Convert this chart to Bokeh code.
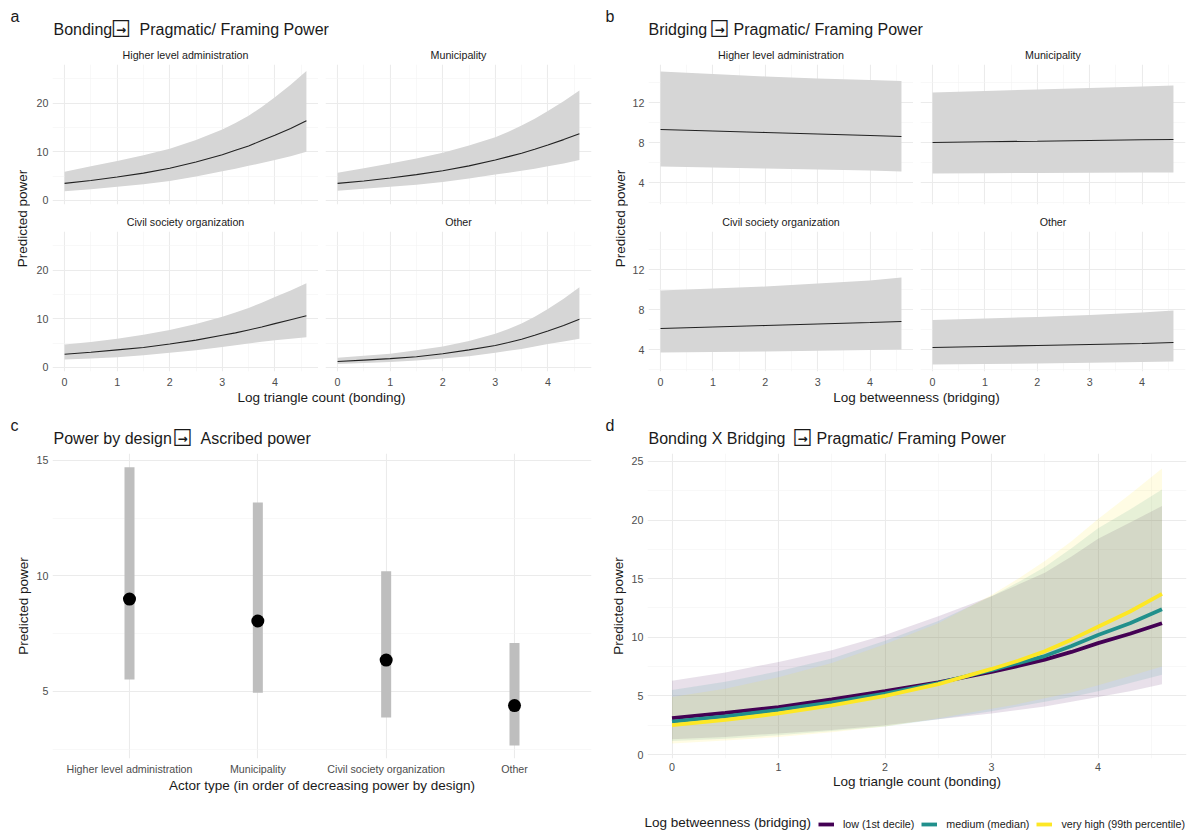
import math

from bokeh.core.properties import value
from bokeh.embed import file_html
from bokeh.layouts import column, row
from bokeh.models import FixedTicker, Legend, LegendItem, Range1d
from bokeh.plotting import figure
from bokeh.resources import INLINE

FONT = "Liberation Sans"
SYMBOL_FONT = "DejaVu Sans"
BOX = "\u2610"
ARROW = "\u2192"
INK = "#1A1A1A"
TICK_INK = "#4D4D4D"
GRID = "#EBEBEB"
GRID_MINOR = "#F3F3F3"
RIBBON = "#D6D6D6"
AXIS_TITLE_SIZE = "13.5px"
TICK_SIZE = "10.7px"

# ---------------------------------------------------------------- data
actor_types = ["Higher level administration", "Municipality",
               "Civil society organization", "Other"]

# a) bonding (log triangle count) -> pragmatic/framing power
bond_x = [0.0, 0.5, 1.0, 1.5, 2.0, 2.5, 3.0, 3.25, 3.5, 3.75, 4.0, 4.3, 4.6]
bond_hla_fit = [3.5, 4.1, 4.8, 5.6, 6.6, 7.9, 9.4, 10.3, 11.2, 12.3, 13.4, 14.8, 16.4]
bond_hla_lo = [1.9, 2.3, 2.8, 3.3, 4.0, 4.9, 6.0, 6.5, 7.1, 7.7, 8.3, 9.1, 10.0]
bond_hla_hi = [5.9, 7.0, 8.1, 9.3, 10.6, 12.4, 14.6, 15.9, 17.4, 19.2, 21.2, 23.8, 26.6]
bond_mun_fit = [3.5, 4.0, 4.6, 5.3, 6.1, 7.1, 8.3, 9.0, 9.7, 10.5, 11.4, 12.5, 13.7]
bond_mun_lo = [2.0, 2.4, 2.8, 3.2, 3.8, 4.5, 5.3, 5.7, 6.1, 6.5, 7.0, 7.6, 8.3]
bond_mun_hi = [5.7, 6.6, 7.6, 8.6, 9.8, 11.3, 13.0, 14.1, 15.4, 16.8, 18.4, 20.4, 22.6]
bond_cso_fit = [2.7, 3.1, 3.6, 4.1, 4.8, 5.6, 6.6, 7.1, 7.7, 8.3, 9.0, 9.8, 10.6]
bond_cso_lo = [1.6, 1.8, 2.1, 2.5, 3.0, 3.5, 4.2, 4.55, 4.9, 5.25, 5.6, 5.9, 6.2]
bond_cso_hi = [4.7, 5.2, 5.9, 6.7, 7.7, 8.9, 10.4, 11.3, 12.2, 13.3, 14.5, 15.8, 17.3]
bond_oth_fit = [1.2, 1.5, 1.8, 2.2, 2.8, 3.6, 4.5, 5.1, 5.8, 6.6, 7.5, 8.6, 9.9]
bond_oth_lo = [0.7, 0.9, 1.1, 1.4, 1.8, 2.3, 3.0, 3.4, 3.8, 4.3, 4.8, 5.3, 5.9]
bond_oth_hi = [2.0, 2.4, 2.8, 3.5, 4.3, 5.4, 6.9, 7.9, 9.0, 10.4, 12.0, 14.1, 16.5]

# b) bridging (log betweenness) -> pragmatic/framing power
bridge_x = [0.0, 1.0, 2.0, 3.0, 4.0, 4.6]
bridge_hla_fit = [9.3, 9.15, 9.0, 8.85, 8.7, 8.6]
bridge_hla_lo = [5.6, 5.5, 5.4, 5.3, 5.2, 5.1]
bridge_hla_hi = [15.1, 14.85, 14.6, 14.4, 14.25, 14.15]
bridge_mun_fit = [8.0, 8.07, 8.13, 8.2, 8.27, 8.3]
bridge_mun_lo = [4.9, 4.92, 4.95, 4.97, 5.0, 5.0]
bridge_mun_hi = [13.0, 13.15, 13.3, 13.45, 13.6, 13.7]
bridge_cso_fit = [6.1, 6.25, 6.4, 6.55, 6.7, 6.8]
bridge_cso_lo = [3.7, 3.75, 3.8, 3.87, 3.95, 4.0]
bridge_cso_hi = [9.9, 10.1, 10.3, 10.6, 10.9, 11.2]
bridge_oth_fit = [4.2, 4.3, 4.4, 4.5, 4.6, 4.7]
bridge_oth_lo = [2.5, 2.55, 2.6, 2.67, 2.75, 2.8]
bridge_oth_hi = [6.95, 7.1, 7.25, 7.45, 7.7, 7.9]

# c) power by design -> ascribed power
design_fit = [9.0, 8.05, 6.36, 4.39]
design_lo = [5.52, 4.95, 3.87, 2.66]
design_hi = [14.7, 13.18, 10.2, 7.1]

# d) bonding x bridging interaction
inter_x = [0.0, 0.5, 1.0, 1.5, 2.0, 2.5, 3.0, 3.25, 3.5, 3.75, 4.0, 4.3, 4.6]
inter_low_fit = [3.1, 3.55, 4.05, 4.7, 5.4, 6.15, 7.05, 7.55, 8.1, 8.75, 9.5, 10.3, 11.2]
inter_low_lo = [1.3, 1.5, 1.8, 2.1, 2.5, 3.0, 3.5, 3.8, 4.1, 4.5, 4.9, 5.4, 6.0]
inter_low_hi = [6.3, 7.0, 7.9, 8.9, 10.2, 11.8, 13.5, 14.5, 15.5, 16.9, 18.4, 19.8, 21.2]
inter_med_fit = [2.8, 3.25, 3.8, 4.45, 5.2, 6.1, 7.2, 7.8, 8.4, 9.25, 10.2, 11.2, 12.4]
inter_med_lo = [1.15, 1.35, 1.65, 2.0, 2.4, 3.0, 3.7, 4.1, 4.5, 4.9, 5.4, 6.1, 6.8]
inter_med_hi = [5.5, 6.2, 7.1, 8.2, 9.7, 11.4, 13.5, 14.7, 16.0, 17.6, 19.3, 20.9, 22.6]
inter_high_fit = [2.5, 2.95, 3.5, 4.2, 5.0, 6.0, 7.3, 8.0, 8.8, 9.8, 10.9, 12.2, 13.7]
inter_high_lo = [0.95, 1.2, 1.5, 1.9, 2.4, 3.1, 3.9, 4.3, 4.8, 5.3, 5.9, 6.7, 7.5]
inter_high_hi = [4.9, 5.6, 6.6, 7.8, 9.4, 11.2, 13.6, 15.0, 16.5, 18.2, 20.1, 22.2, 24.4]

bridging_levels = ["low (1st decile)", "medium (median)", "very high (99th percentile)"]
level_colors = ["#440154", "#21908C", "#FDE725"]

x_ticks = [0, 1, 2, 3, 4]
x_minor = [0.5, 1.5, 2.5, 3.5, 4.5]


# ---------------------------------------------------------------- helpers
def base_style(p, x_standoff=4):
    p.outline_line_color = None
    p.background_fill_color = "white"
    p.border_fill_color = "white"
    p.grid.grid_line_color = GRID
    p.grid.grid_line_width = 1.1
    p.grid.minor_grid_line_color = GRID_MINOR
    p.grid.minor_grid_line_width = 0.6
    for ax in p.axis:
        ax.axis_line_color = None
        ax.major_tick_line_color = None
        ax.minor_tick_line_color = None
        ax.major_tick_out = 0
        ax.major_tick_in = 0
        ax.minor_tick_out = 0
        ax.minor_tick_in = 0
        ax.major_label_text_font = FONT
        ax.major_label_text_font_size = TICK_SIZE
        ax.major_label_text_color = TICK_INK
        ax.major_label_standoff = 4
        ax.axis_label_text_font = FONT
        ax.axis_label_text_font_size = AXIS_TITLE_SIZE
        ax.axis_label_text_font_style = "normal"
        ax.axis_label_text_color = INK
        ax.axis_label_standoff = 3
    for ax in p.xaxis:
        ax.major_label_standoff = x_standoff
        ax.axis_label_standoff = 0


def set_ticks(p, xt, yt):
    p.xgrid.ticker = xt
    p.ygrid.ticker = yt
    for ax in p.xaxis:
        ax.ticker = xt
    for ax in p.yaxis:
        ax.ticker = yt


def blank_figure(width, height):
    p = figure(width=width, height=height, x_range=Range1d(0, width),
               y_range=Range1d(0, height), x_axis_location=None,
               y_axis_location=None, min_border=0,
               output_backend="svg", toolbar_location=None)
    p.grid.visible = False
    p.outline_line_color = None
    p.background_fill_color = "white"
    p.border_fill_color = "white"
    return p


def put_text(p, x, y_from_top, txt, size, angle=0, align="left", font=FONT, style="normal"):
    p.text(x=[x], y=[p.height - y_from_top], text=[txt], angle=angle,
           text_align=align, text_baseline="middle",
           text_font=value(font), text_font_size=value(size),
           text_font_style=style, text_color=INK)


def heading(width, height, tag, y, left_text, arrow_x, right_text, right_x):
    p = blank_figure(width, height)
    put_text(p, 10, y - 13, tag, "16px")
    put_text(p, 53, y, left_text, "16px")
    put_text(p, arrow_x, y - 1, BOX, "23px", align="center", font=SYMBOL_FONT)
    put_text(p, arrow_x, y, ARROW, "12px", align="center", font=SYMBOL_FONT, style="bold")
    put_text(p, right_x, y, right_text, "16px")
    return p


FRAME_H = 140


def facet(name, xs, fit, lo, hi, y_span, yt_major, yt_minor, frame_w,
          left, right, top, bottom, show_x, show_y):
    p = figure(width=left + frame_w + right, height=top + FRAME_H + bottom,
               x_range=Range1d(-0.23, 4.83), y_range=Range1d(*y_span),
               x_axis_location="below" if show_x else None,
               y_axis_location="left" if show_y else None,
               min_border_left=left, min_border_right=right,
               min_border_top=top, min_border_bottom=bottom,
               title=name, output_backend="svg", toolbar_location=None)
    p.title.align = "center"
    p.title.text_font = FONT
    p.title.text_font_size = TICK_SIZE
    p.title.text_font_style = "normal"
    p.title.text_color = INK
    p.title.standoff = 8
    p.varea(x=xs, y1=lo, y2=hi, fill_color=RIBBON, fill_alpha=1.0)
    p.line(x=xs, y=fit, line_color="#222222", line_width=1.1)
    base_style(p, x_standoff=6)
    set_ticks(p, FixedTicker(ticks=x_ticks, minor_ticks=x_minor),
              FixedTicker(ticks=yt_major, minor_ticks=yt_minor))
    return p


HEAD_H = 41
TOP_B, MID_B_UP, MID_B_LOW, LOW_B = 23, 4, 23, 19
COL_H = (TOP_B + FRAME_H + MID_B_UP) + (MID_B_LOW + FRAME_H + LOW_B)
YT_CENTER = 218 - HEAD_H

# ---------------------------------------------------------------- panel a
a_span = (-0.85, 27.95)
a_major, a_minor = [0, 10, 20], [5, 15, 25]
fa1 = facet(actor_types[0], bond_x, bond_hla_fit, bond_hla_lo, bond_hla_hi,
            a_span, a_major, a_minor, 266, 22, 0, TOP_B, MID_B_UP, False, True)
fa2 = facet(actor_types[1], bond_x, bond_mun_fit, bond_mun_lo, bond_mun_hi,
            a_span, a_major, a_minor, 266, 7, 4, TOP_B, MID_B_UP, False, False)
fa3 = facet(actor_types[2], bond_x, bond_cso_fit, bond_cso_lo, bond_cso_hi,
            a_span, a_major, a_minor, 266, 22, 0, MID_B_LOW, LOW_B, True, True)
fa4 = facet(actor_types[3], bond_x, bond_oth_fit, bond_oth_lo, bond_oth_hi,
            a_span, a_major, a_minor, 266, 7, 4, MID_B_LOW, LOW_B, True, False)

head_a = heading(595, HEAD_H, "a", 29, "Bonding", 120.5,
                 "Pragmatic/ Framing Power", 139)
ytitle_a = blank_figure(30, COL_H)
put_text(ytitle_a, 22, YT_CENTER, "Predicted power", AXIS_TITLE_SIZE, angle=math.pi / 2, align="center")
xtitle_a = blank_figure(595, 406 - HEAD_H - COL_H)
put_text(xtitle_a, 321, 7, "Log triangle count (bonding)", AXIS_TITLE_SIZE, align="center")
panel_a = column(head_a,
                 row(ytitle_a, column(row(fa1, fa2), row(fa3, fa4))),
                 xtitle_a)

# ---------------------------------------------------------------- panel b
b_span = (1.8, 15.8)
b_major, b_minor = [4, 8, 12], [2, 6, 10, 14]
fb1 = facet(actor_types[0], bridge_x, bridge_hla_fit, bridge_hla_lo, bridge_hla_hi,
            b_span, b_major, b_minor, 265, 20, 0, TOP_B, MID_B_UP, False, True)
fb2 = facet(actor_types[1], bridge_x, bridge_mun_fit, bridge_mun_lo, bridge_mun_hi,
            b_span, b_major, b_minor, 265, 7, 10, TOP_B, MID_B_UP, False, False)
fb3 = facet(actor_types[2], bridge_x, bridge_cso_fit, bridge_cso_lo, bridge_cso_hi,
            b_span, b_major, b_minor, 265, 20, 0, MID_B_LOW, LOW_B, True, True)
fb4 = facet(actor_types[3], bridge_x, bridge_oth_fit, bridge_oth_lo, bridge_oth_hi,
            b_span, b_major, b_minor, 265, 7, 10, MID_B_LOW, LOW_B, True, False)

head_b = heading(600, HEAD_H, "b", 29, "Bridging", 124,
                 "Pragmatic/ Framing Power", 138)
ytitle_b = blank_figure(33, COL_H)
put_text(ytitle_b, 25, YT_CENTER, "Predicted power", AXIS_TITLE_SIZE, angle=math.pi / 2, align="center")
xtitle_b = blank_figure(600, 406 - HEAD_H - COL_H)
put_text(xtitle_b, 321, 7, "Log betweenness (bridging)", AXIS_TITLE_SIZE, align="center")
panel_b = column(head_b,
                 row(ytitle_b, column(row(fb1, fb2), row(fb3, fb4))),
                 xtitle_b)

# ---------------------------------------------------------------- panel c
positions = list(range(1, len(actor_types) + 1))
pc = figure(width=595, height=379, x_range=Range1d(0.4, 4.6),
            y_range=Range1d(2.10, 15.30), min_border_left=52,
            min_border_right=4, min_border_top=0, min_border_bottom=74,
            output_backend="svg", toolbar_location=None)
pc.vbar(x=positions, width=0.078, bottom=design_lo, top=design_hi,
        fill_color="#BEBEBE", line_color=None)
pc.scatter(x=positions, y=design_fit, size=13, fill_color="black", line_color=None)
base_style(pc)
set_ticks(pc, FixedTicker(ticks=positions, minor_ticks=[]),
          FixedTicker(ticks=[5, 10, 15], minor_ticks=[2.5, 7.5, 12.5]))
pc.xaxis.major_label_overrides = {i: n for i, n in zip(positions, actor_types)}
pc.xaxis.axis_label = "Actor type (in order of decreasing power by design)"
pc.yaxis.axis_label = "Predicted power"

head_c = heading(595, 47, "c", 32, "Power by design", 182,
                 "Ascribed power", 200)
panel_c = column(row(head_c), row(pc))

# ---------------------------------------------------------------- panel d
pdx = figure(width=600, height=347, x_range=Range1d(-0.23, 4.83),
             y_range=Range1d(-0.34, 25.68), min_border_left=52,
             min_border_right=9, min_border_top=0, min_border_bottom=42,
             output_backend="svg", toolbar_location=None)
fits = [inter_low_fit, inter_med_fit, inter_high_fit]
los = [inter_low_lo, inter_med_lo, inter_high_lo]
his = [inter_low_hi, inter_med_hi, inter_high_hi]
for lo, hi, col in zip(los, his, level_colors):
    pdx.varea(x=inter_x, y1=lo, y2=hi, fill_color=col, fill_alpha=0.12)
for fit, col in zip(fits, level_colors):
    pdx.line(x=inter_x, y=fit, line_color=col, line_width=3.8)
base_style(pdx)
set_ticks(pdx, FixedTicker(ticks=x_ticks, minor_ticks=x_minor),
          FixedTicker(ticks=[0, 5, 10, 15, 20, 25], minor_ticks=[2.5, 7.5, 12.5, 17.5, 22.5]))
pdx.xaxis.axis_label = "Log triangle count (bonding)"
pdx.yaxis.axis_label = "Predicted power"

head_d = heading(600, 47, "d", 32, "Bonding X Bridging", 207,
                 "Pragmatic/ Framing Power", 221)

# legend strip under panel d: the key renderers carry the same series but stay hidden,
# so only the legend entries are painted here
legend_fig = blank_figure(600, 32)
put_text(legend_fig, 49, 22, "Log betweenness (bridging)", AXIS_TITLE_SIZE)
key_renderers = []
for fit, col in zip(fits, level_colors):
    r = legend_fig.line(x=inter_x, y=fit, line_color=col, line_width=3.8)
    r.visible = False
    key_renderers.append(r)
legend = Legend(
    items=[LegendItem(label=lab, renderers=[r]) for lab, r in zip(bridging_levels, key_renderers)],
    orientation="horizontal", location=(223, 1),
    label_text_font=FONT, label_text_font_size=TICK_SIZE, label_text_color=INK,
    glyph_width=16, glyph_height=14, label_standoff=9, spacing=7,
    padding=2, margin=0, border_line_color=None, background_fill_alpha=0,
    inactive_fill_alpha=0,
)
legend_fig.add_layout(legend)

panel_d = column(row(head_d), row(pdx), row(legend_fig))

page = column(row(panel_a, panel_b), row(panel_c, panel_d))

with open("out.html", "w") as fh:
    fh.write(file_html(page, INLINE))
